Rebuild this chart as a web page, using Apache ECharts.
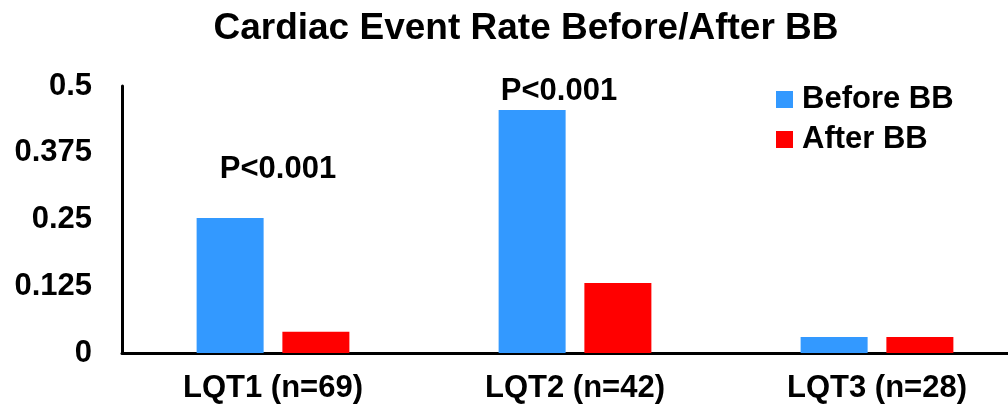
<!DOCTYPE html>
<html><head><meta charset="utf-8">
<script src="https://cdn.jsdelivr.net/npm/echarts@6/dist/echarts.min.js"></script>
<style>html,body{margin:0;padding:0;background:#fff}#c{width:1008px;height:409px}</style>
</head><body><div id="c"></div>
<script>
const categories = ['LQT1 (n=69)', 'LQT2 (n=42)', 'LQT3 (n=28)'];
const beforeBB = [0.253, 0.455, 0.03];
const afterBB = [0.04, 0.131, 0.03];
const pLabels = ['P<0.001', 'P<0.001', ''];
const pLabelY = [0.343, 0.489, null];
const yTicks = [0, 0.125, 0.25, 0.375, 0.5];

const FONT = '"Liberation Sans", Arial, sans-serif';
const chart = echarts.init(document.getElementById('c'), null, {renderer: 'canvas'});
chart.setOption({
  animation: false,
  backgroundColor: '#fff',
  title: {
    text: 'Cardiac Event Rate Before/After BB',
    left: 521, top: 5, textAlign: 'center',
    textStyle: {fontFamily: FONT, fontWeight: 'bold', fontSize: 37, color: '#000'}
  },
  legend: {
    orient: 'vertical', left: 776, top: 84, padding: 0,
    itemWidth: 17, itemHeight: 17, itemGap: 9,
    icon: 'rect',
    data: ['Before BB', 'After BB'],
    textStyle: {fontFamily: FONT, fontWeight: 'bold', fontSize: 31, color: '#000', padding: [0, 0, 0, 4]}
  },
  grid: {left: 122, width: 906, top: 86, bottom: 56, containLabel: false, outerBoundsMode: 'none'},
  xAxis: {
    type: 'category', data: categories,
    axisLine: {lineStyle: {color: '#000', width: 3}},
    axisTick: {show: false},
    axisLabel: {fontFamily: FONT, fontWeight: 'bold', fontSize: 31, color: '#000', margin: 20}
  },
  yAxis: {
    type: 'value', min: 0, max: 0.5, interval: 0.125,
    axisLine: {show: true, lineStyle: {color: '#000', width: 3}},
    axisTick: {show: false},
    splitLine: {show: false},
    axisLabel: {fontFamily: FONT, fontWeight: 'bold', fontSize: 31, color: '#000', margin: 30,
      formatter: v => String(yTicks.find(t => Math.abs(t - v) < 1e-9) ?? v)}
  },
  series: [
    {name: 'Before BB', type: 'bar', data: beforeBB, barWidth: 67, barGap: '28%',
      itemStyle: {color: '#3399ff'}},
    {name: 'After BB', type: 'bar', data: afterBB, barWidth: 67,
      itemStyle: {color: '#ff0000'}},
    {name: 'p', type: 'scatter', symbolSize: 0, silent: true,
      itemStyle: {opacity: 1},
      data: pLabelY.map((y, i) => y == null ? null : {value: [i, y],
        label: {show: true, formatter: pLabels[i], position: 'inside',
          offset: [i === 0 ? 5 : -16, 0],
          fontFamily: FONT, fontWeight: 'bold', fontSize: 31, color: '#000', opacity: 1}})
        .filter(d => d)}
  ]
});
</script></body></html>
